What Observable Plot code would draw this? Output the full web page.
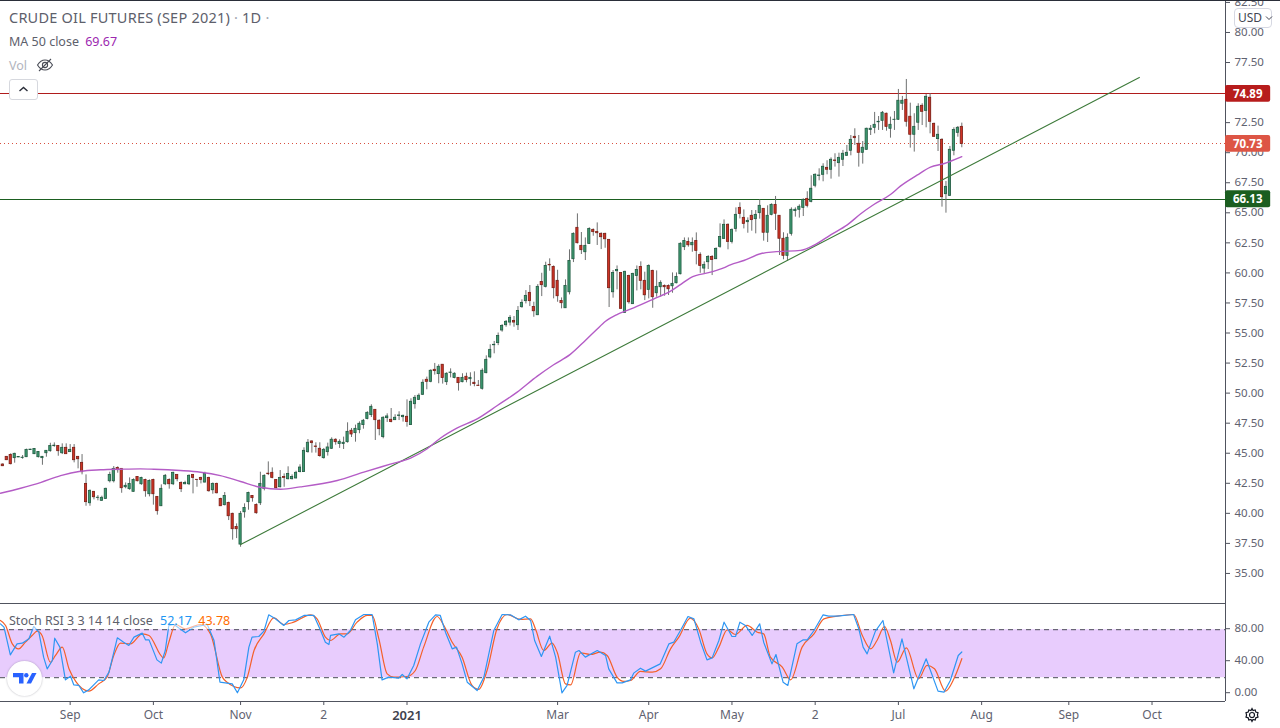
<!DOCTYPE html>
<html>
<head>
<meta charset="utf-8">
<script src="https://cdn.jsdelivr.net/npm/d3@7"></script>
<script src="https://cdn.jsdelivr.net/npm/@observablehq/plot@0.6"></script>
<style>
html,body{margin:0;padding:0;background:#fff;overflow:hidden}
#wrap{position:relative;width:1280px;height:728px;font-family:"Noto Sans",sans-serif}
#wrap svg.plot{display:block}
.abs{position:absolute;white-space:nowrap}
</style>
</head>
<body>
<div id="wrap">
  <div id="main"></div>
  <div id="lower"></div>
  <div class="abs" style="left:0;top:0;width:1280px;height:1px;background:#2a2e39"></div>
  <div class="abs" style="left:9px;top:8px;font-size:14.5px;letter-spacing:.22px;line-height:19px;color:#5d606b">CRUDE OIL FUTURES (SEP 2021) <span style="color:#a3a6af">·</span> 1D <span style="color:#a3a6af">·</span></div>
  <div class="abs" style="left:9px;top:33px;font-size:12.5px;line-height:17px;color:#5d606b">MA 50 close <span style="color:#9c27b0;margin-left:3px">69.67</span></div>
  <div class="abs" style="left:9px;top:57px;font-size:12.5px;line-height:17px;color:#b2b5be">Vol</div>
  <svg class="abs" style="left:36px;top:57px" width="18" height="16" viewBox="0 0 18 16" fill="none" stroke="#4a4d57" stroke-width="1.1"><path d="M1.5 8C4 4 6.5 3 9 3s5 1 7.5 5C14 12 11.500 13 9 13S4 12 1.500 8Z"/><circle cx="9" cy="8" r="2.600"/><path d="M3 14L15 2"/></svg>
  <div class="abs" style="left:9px;top:79px;width:27px;height:19px;border:1px solid #d6d8de;border-radius:3px;background:#fff"><svg width="27" height="19" viewBox="0 0 27 19" fill="none" stroke="#2a2e39" stroke-width="1.400" style="display:block"><path d="M9.500 11L13.500 7.500L17.500 11"/></svg></div>
  <div class="abs" style="left:1234px;top:8px;width:36px;height:18px;border:1px solid #d6d8e2;border-radius:4px;background:#fff;font-size:12px;line-height:18px;color:#434651;box-sizing:content-box;padding-left:0;text-indent:3px">USD<svg width="8" height="6" viewBox="0 0 8 6" fill="none" stroke="#434651" style="margin-left:3px;vertical-align:1px"><path d="M1 1.500L4 4.500L7 1.500"/></svg></div>
  <div class="abs" style="left:9px;top:612px;font-size:12.500px;line-height:17px;color:#5d606b;background:rgba(255,255,255,.55)">Stoch RSI 3 3 14 14 close <span style="color:#2196f3;margin-left:4px">52.17</span> <span style="color:#ff6d00;margin-left:3px">43.78</span></div>
  <div class="abs" style="left:7px;top:661px;width:35px;height:35px;border-radius:50%;background:#fff;box-shadow:0 0 2px rgba(40,40,60,.35)"><svg width="35" height="35" viewBox="0 0 35 35" fill="#2962ff" style="display:block"><path d="M6 12h10.500v10.500h-4.500v-6.300H6z"/><circle cx="19.300" cy="14.200" r="2.200"/><path d="M25 12h4.500l-5.500 10.500h-4.500z"/></svg></div>
  <svg class="abs" style="left:1244px;top:707px" width="16" height="16" viewBox="0 0 16 16" fill="none" stroke="#131722" stroke-width="1.200"><circle cx="8" cy="8" r="2.500"/><path d="M8 1.500l1 2 2.200-.6.600 2.200 2.200.6-.6 2.300.6 2.200-2.200.6-.6 2.200-2.200-.6-1 2-1-2-2.200.6-.6-2.200-2.200-.6.600-2.200-.600-2.300 2.200-.6.600-2.200 2.200.6z"/></svg>
</div>
<script>
const opens = [
44.06,44.70,44.86,44.59,44.65,44.60,44.67,45.26,44.92,44.67,
44.59,45.00,45.17,45.59,45.61,45.00,45.45,45.09,45.45,44.70,
44.20,42.45,40.84,41.79,41.27,41.04,41.20,42.67,42.67,43.78,
43.70,42.17,42.01,41.79,43.03,42.42,42.78,41.59,42.78,41.37,
40.59,42.42,42.78,42.42,43.20,42.53,42.42,42.42,43.20,42.79,
42.95,42.56,42.95,41.92,42.45,41.20,40.68,40.87,39.96,38.87,
37.40,40.09,40.93,41.45,40.70,40.84,42.04,43.30,43.37,42.78,
42.17,43.03,42.84,42.84,42.90,43.43,43.43,45.09,45.98,45.56,
45.37,44.59,45.09,45.37,46.12,45.76,45.76,45.92,46.87,46.67,
46.92,47.34,47.84,48.17,48.61,47.70,46.34,47.92,47.78,47.75,
48.10,48.00,48.03,47.34,49.08,49.44,49.86,51.11,50.94,51.94,
51.58,52.36,50.91,51.68,51.25,51.27,50.91,51.36,51.16,50.86,
50.62,50.36,51.66,52.97,53.98,54.16,55.21,55.65,55.87,56.01,
55.65,57.15,57.65,58.34,57.17,56.48,59.25,58.84,60.67,60.50,
59.34,57.67,57.06,58.39,61.14,63.75,62.25,61.72,62.41,63.58,
63.41,63.25,63.25,62.75,58.39,60.14,60.00,56.67,59.75,57.40,
59.75,60.50,59.34,58.59,60.17,58.31,58.81,58.92,58.92,58.89,
59.14,59.89,62.14,62.58,62.30,62.66,61.50,60.36,60.89,61.33,
61.14,62.17,62.83,64.00,62.58,63.66,65.41,64.58,64.22,64.75,
64.47,64.97,65.33,63.34,64.83,65.66,64.75,62.84,61.42,63.25,
65.14,65.25,65.41,66.16,65.91,67.25,68.06,68.16,68.74,68.58,
69.35,69.13,69.41,69.74,70.16,71.32,70.74,69.99,70.24,71.88,
72.07,72.53,72.65,73.24,71.99,72.72,72.74,74.07,74.40,72.99,
71.49,72.49,73.90,73.48,74.57,72.40,71.13,71.07,66.55,66.41,
70.16,71.65,72.15];
const closes = [
43.92,44.42,44.09,44.95,44.69,44.63,45.28,45.30,45.36,45.11,
44.70,45.20,45.61,45.63,45.17,45.45,44.92,45.28,44.42,44.50,
43.42,40.93,41.87,41.34,41.30,41.29,42.04,43.20,43.70,43.59,
42.09,42.29,42.45,42.78,42.67,42.95,41.84,42.70,41.59,40.18,
42.04,43.12,42.42,43.37,42.84,42.01,42.53,43.12,42.95,42.77,
42.78,43.28,41.84,42.45,41.67,40.59,41.45,39.76,38.68,38.68,
39.96,40.45,41.70,41.26,40.01,42.45,43.12,43.26,42.95,42.09,
42.95,42.95,43.28,43.03,43.37,43.81,45.20,45.87,45.84,45.52,
44.76,45.28,45.48,46.12,45.92,45.95,45.87,46.78,46.56,47.03,
47.45,47.70,48.36,48.86,47.75,47.00,47.95,48.06,47.59,47.95,
48.14,48.11,47.59,49.28,49.61,49.78,50.86,50.94,51.86,51.83,
52.19,51.25,51.61,51.71,51.61,50.83,51.27,51.08,51.27,50.75,
50.59,51.86,52.77,53.60,54.02,54.75,55.59,55.93,56.26,55.87,
56.84,57.51,58.09,57.65,56.81,58.84,58.98,60.58,60.63,58.73,
58.06,57.48,58.92,61.00,63.25,62.47,61.89,62.25,63.66,63.39,
63.30,62.97,62.80,58.73,60.00,60.25,57.01,60.09,57.56,59.92,
60.25,59.34,58.14,60.58,57.98,58.84,59.17,58.81,58.64,59.09,
59.67,62.42,62.66,62.30,62.50,61.83,60.58,60.67,61.33,61.08,
62.00,62.99,64.00,62.58,63.58,64.83,64.91,64.08,64.33,64.39,
64.83,65.58,63.34,64.75,65.66,64.92,62.84,61.42,62.92,65.25,
65.25,65.50,66.08,65.58,67.00,68.16,68.10,68.83,68.58,69.41,
69.31,69.57,69.91,69.99,71.07,71.21,69.99,70.41,71.99,71.99,
72.32,72.57,73.32,72.15,72.32,72.74,74.32,74.32,72.57,71.49,
72.15,73.82,73.40,74.65,72.57,71.32,71.49,66.30,67.16,70.24,
71.88,72.07,70.73];
const highs = [
44.12,44.73,44.95,45.00,44.71,44.81,45.34,45.32,45.39,45.14,
44.73,45.22,45.83,45.86,45.64,45.78,45.78,45.72,45.72,44.73,
44.89,43.20,41.95,41.81,41.48,41.43,42.09,43.42,43.89,43.87,
43.70,42.53,42.95,42.87,43.06,43.00,42.84,42.78,42.84,41.37,
42.37,43.23,42.87,43.42,43.20,42.62,42.67,43.20,43.20,42.81,
43.00,43.42,43.00,42.53,42.51,41.26,41.73,40.93,40.01,39.12,
40.15,40.79,41.76,41.48,40.79,43.42,43.20,44.28,43.78,42.78,
43.56,43.28,43.87,43.20,43.50,44.04,45.45,46.14,46.03,45.87,
45.87,45.40,45.84,46.28,46.20,46.12,46.34,47.53,47.06,47.34,
47.61,47.81,48.45,49.03,48.61,47.78,48.03,48.28,48.72,48.20,
48.45,48.17,49.44,49.53,49.80,49.94,51.11,51.33,51.94,52.47,
52.36,52.36,51.69,52.02,51.69,51.27,51.61,51.66,51.69,51.77,
51.05,52.02,53.10,54.02,54.30,55.00,55.70,56.04,56.45,56.37,
57.20,57.76,58.53,58.95,57.56,59.03,59.97,60.89,61.17,60.58,
60.22,57.92,59.42,61.92,63.33,64.91,63.36,62.91,63.75,63.66,
64.16,63.33,63.30,62.78,60.20,60.58,60.00,60.14,59.81,59.97,
60.58,60.92,60.06,60.67,60.22,60.17,59.34,59.00,59.00,60.00,
60.00,62.50,62.91,62.91,62.91,63.33,61.67,60.92,61.44,61.44,
62.08,64.08,64.41,64.08,63.66,65.41,65.83,65.24,64.58,65.19,
65.19,66.08,65.33,65.58,65.75,66.36,64.75,63.34,63.25,65.41,
65.41,65.66,66.16,66.75,68.08,68.24,68.66,69.08,69.33,69.57,
69.91,69.96,70.19,70.60,71.43,71.99,71.43,70.93,72.04,72.26,
73.35,73.01,73.43,73.29,72.96,73.43,75.26,74.68,76.09,74.12,
73.24,74.07,74.07,74.84,74.90,72.46,72.21,71.16,67.60,70.52,
72.07,72.18,72.46];
const lows = [
43.89,44.39,44.03,44.17,44.64,44.50,44.64,45.24,44.89,44.61,
44.00,44.67,45.09,45.50,44.75,44.89,44.92,45.06,44.20,43.70,
43.20,40.59,40.59,41.12,41.04,41.01,41.18,42.53,42.53,43.34,
41.67,42.04,41.92,41.76,42.62,42.34,41.34,41.37,40.68,39.85,
40.59,42.31,42.01,42.31,42.62,41.73,42.37,42.31,41.62,42.17,
42.45,42.53,41.76,41.59,41.62,40.57,40.62,39.40,37.77,37.90,
37.18,39.60,40.26,40.93,39.93,40.65,41.87,43.14,42.87,42.04,
42.12,42.17,42.78,42.78,42.87,43.37,43.43,45.01,45.01,45.01,
44.67,44.51,44.76,45.31,45.67,45.40,45.31,45.84,46.31,45.92,
46.62,47.00,47.78,47.97,46.06,46.45,46.20,47.56,47.53,47.72,
47.72,47.59,47.17,47.31,48.67,49.39,49.80,50.28,50.86,51.50,
50.78,50.75,50.64,51.27,51.19,50.17,50.86,50.86,50.58,50.53,
50.58,50.25,51.61,52.86,53.27,53.95,55.07,55.48,55.59,55.48,
55.21,57.06,57.42,57.20,56.31,56.45,58.03,58.75,60.14,57.84,
57.56,57.01,57.06,58.17,60.86,62.41,61.53,61.03,62.36,63.05,
62.28,61.94,62.05,57.12,57.90,58.59,57.01,56.65,57.40,57.37,
58.50,58.59,57.70,57.84,57.06,57.98,57.98,58.06,58.12,58.31,
59.09,59.84,61.86,62.14,61.72,60.67,59.97,59.92,60.28,59.78,
61.11,62.05,62.78,61.92,62.41,63.39,64.49,63.66,63.30,63.47,
63.25,64.47,62.64,62.53,64.75,63.53,61.45,61.09,60.98,63.06,
64.64,64.56,64.69,65.41,65.83,67.08,67.66,67.58,68.16,67.80,
68.80,67.97,68.85,69.69,69.74,70.60,68.80,69.05,70.19,71.43,
71.57,71.85,71.85,71.79,71.21,71.85,72.68,73.51,72.13,70.38,
70.05,71.85,72.26,72.07,71.57,71.29,70.10,65.47,64.97,66.36,
69.74,71.29,70.41];

const maBars = [-0.6,4.5,9.5,14.6,19.6,24.7,29.7,34.7,38.1,44.8,49.9,54.9,60,65,70.1,75.1,84.4,91.1,97.8,102.9,107.1,110.4,114.7,119.7,124.8,129.8,134.8,139,143.2,147,149.6,152.1,155,159.2,164.3,168.5,171,173.5,178.6,181.9,183.6,187,191.2,194.6,201.3,204.6,208.9,213.1,216.5,219.8,224,226.5,230.7,234.1,237.4,242];
const maValues = [41.67,42.09,42.56,43.14,43.5,43.62,43.67,43.7,43.67,43.56,43.42,43.14,42.65,42.17,42.01,42.2,42.73,43.43,44.09,44.59,45.37,46.25,47.11,47.86,48.97,50.08,51.39,52.36,53.22,54.38,55.2,55.98,56.54,57.09,57.84,58.48,59.03,59.59,60.06,60.42,60.67,61.03,61.59,61.75,61.87,62.28,63.17,64,64.92,65.69,66.52,67.22,68.13,68.8,69.08,69.67];

const trendBars = [60,286.8];
const trendPrices = [37.4,76.26];

const levels = [74.89,66.13];
const lastPrice = 70.73;
const priceTicks = [35,37.5,40,42.5,45,47.5,50,52.5,55,57.5,60,62.5,65,67.5,70,72.5,77.5,80,82.5];
const priceTags = [
  {p:74.89, bg:"#b71c1c"},
  {p:70.73, bg:"#dd5545"},
  {p:66.13, bg:"#1b5e20"}
];

const kBars = [-0.6,0.3,1.9,3.6,4.9,6.6,7.8,9.1,10.3,11.2,12.5,13.1,14.4,15.8,17.1,17.9,19.2,20.4,21.7,24.2,25.5,26.8,28.9,30.5,31.8,33.1,35.2,36,36.9,38.9,40,41,41.9,43.2,46.1,48.2,51.6,53.3,54.8,57.9,59.2,60.8,62.1,62.9,64.6,65.9,67.1,68.8,70.9,72.2,73.9,76,78.5,80.2,81.4,82.3,
82.7,84.8,86.1,87.7,89,91.1,93.2,94.5,95.7,97.4,99.9,100.8,102,103.7,105.4,107.5,109.2,110.4,111.7,113.4,114.5,115.9,117.2,119.7,121.4,123.9,126,128.1,130.2,131.9,133.2,134.2,135.9,138,139.5,141.1,142.4,144.5,145.4,147,150,152.1,152.9,155,156.3,158.4,159.2,160.9,162.2,165.9,
168.1,169.3,171,172.9,174.4,176.1,177.7,179,180.7,182,184,184.9,186,187.4,189.1,191,192,194.1,195.1,196.9,198.1,200.4,202,203,204.7,207,208.4,210.5,214.7,216,217.1,218.1,220.2,222.1,224.8,226.9,229.9,233,236,237.5,239.1,241.1,242];
const kValues = [87.3,83.2,48.6,62.3,63.2,68.6,84,76.9,45.7,31.1,41.5,69.4,58.2,17.3,21.9,11.1,10.3,1.1,4.8,17.3,16.5,26.9,69.8,64.4,60.3,70.7,75.7,67.3,67.3,42.3,38.2,54,85.3,86.5,76.1,83.2,86.5,66.5,14.4,12.3,1.1,17.3,58.2,70.7,71.5,78.2,98.6,93.6,85.3,91.5,92.3,97.8,97.8,79,64.4,61.5,
72.8,74.8,70.7,79,92.3,99,99,62.3,17.3,20.7,19.4,24,18.6,35.3,62.3,89.4,98.6,97.8,76.9,56.1,58.2,37.3,14.4,4,20.7,79,99,98.6,92.3,96.9,91.5,66.5,46.5,71.9,45.7,1.1,10.3,51.9,54,45.7,54,47.8,31.1,13.6,13.6,17.3,25.7,31.9,28.2,37.3,
62.3,64.4,79,96.5,93.6,64.4,42.3,44.8,66.5,89.4,71.5,71.5,89.4,85.3,72.8,87.3,64.4,37.3,49,14.4,10.3,62.3,67.3,67.3,79,98.6,96.9,96.9,99,81.1,58.2,49.8,78.2,91.5,26.1,68.6,6.1,43.6,3.2,1.9,16.5,47.8,52.17];

const dBars = [-0.6,0.7,2.4,4,5.7,7.4,8.7,9.9,12,13.3,15,16.7,18.4,21.7,24.2,26.3,28,29.7,32.2,35.2,36.9,40.6,41.9,43.6,46.1,49.9,52.4,55.4,56.6,60,61.7,63.4,65.9,68.4,70.9,73.4,77.6,79.3,81.4,82.7,
85.2,86.9,89.4,92,93.2,94.9,97,98.7,102,104.1,106.2,109.6,111.3,113.4,115.9,118.4,120.1,122.2,124.7,127.3,130.6,133.2,134.4,136.5,138.6,139.9,142,143.3,145.8,148.3,150.8,152.5,155,156.7,158.4,160.9,163.9,166,
168.5,170.6,173.5,175.6,177.7,179,180.7,182.8,184.9,187.8,190.4,192,193.7,196.7,198.8,201.7,204.7,207.2,210.5,214.7,216.9,219,220.6,222.5,224,225.7,228,231.1,233.2,235.1,237.9,240,242];
const dValues = [91.5,85.3,62.3,56.1,64.4,72.8,78.2,72.8,39.4,47.8,58.2,31.1,15.3,3.2,12.3,20.7,47.8,63.2,62.3,74.8,72.8,44.8,64.4,86.5,81.1,86.5,74.8,20.7,14.4,7.3,20.7,54,74.8,94.8,86.5,89.4,98.6,93.6,70.7,66.5,
74.8,74.8,89.4,97.8,97.8,68.6,24.8,20.7,21.5,29,58.2,96.5,85.3,64.4,45.7,10.3,5.3,29,81.1,99,92.8,93.6,81.1,54,63.2,51.9,12.3,11.1,51.1,49,51.9,47.8,20.7,15.3,16.5,27.8,26.9,31.1,
56.1,70.7,94.4,81.1,49.8,44.8,58.2,79.8,74,85.3,76.9,74.8,45.7,33.2,17.3,58.2,74.8,93.6,96.9,99,72.8,56.1,66.5,84,66.5,39.4,57.3,18.6,35.3,31.1,3.2,18.6,43.78];

const stochTicks = [0,40,80];
const timeTickBars = [17,38,60,81,102,140,163,184,205,226,247,269,290];
const timeTickLabels = ["Sep","Oct","Nov","2","2021","Mar","Apr","May","2","Jul","Aug","Sep","Oct"];

const xDomain = [-0.58,308.54];
const font = '"Noto Sans",sans-serif';
const axisColor = "#50535e";
const labelColor = "#5f6270";

const candles = opens.map((o,i)=>({i,o,c:closes[i],h:highs[i],l:lows[i],up:closes[i]>=o}));
const ma = maBars.map((x,i)=>({x,v:maValues[i]}));
const trend = trendBars.map((x,i)=>({x,v:trendPrices[i]}));
const k = kBars.map((x,i)=>({x,v:kValues[i]}));
const d = dBars.map((x,i)=>({x,v:dValues[i]}));
const halfBody = 0.28;

const main = Plot.plot({
  width:1280,height:603,marginLeft:0,marginRight:55,marginTop:0,marginBottom:0,
  style:{fontFamily:font,fontSize:"12px",background:"transparent",overflow:"visible"},
  x:{domain:xDomain,axis:null},
  y:{domain:[32.5,82.66],axis:null},
  marks:[
    Plot.axisY({anchor:"right",ticks:priceTicks,tickFormat:d3.format(".2f"),tickSize:4,tickPadding:5,stroke:axisColor,fill:labelColor,label:null,fontSize:11.5}),
    Plot.ruleX([xDomain[1]],{stroke:axisColor,strokeWidth:1}),
    Plot.ruleY([levels[0]],{x1:xDomain[0],x2:xDomain[1],stroke:"#b01c1c",strokeWidth:1,shapeRendering:"crispEdges"}),
    Plot.ruleY([levels[1]],{x1:xDomain[0],x2:xDomain[1],stroke:"#1b5e20",strokeWidth:1,shapeRendering:"crispEdges"}),
    Plot.ruleY([lastPrice],{x1:xDomain[0],x2:xDomain[1],stroke:"#d85040",strokeWidth:1,strokeDasharray:"1,3",shapeRendering:"crispEdges"}),
    Plot.ruleX(candles,{x:"i",y1:"l",y2:"h",stroke:"#6e7070",strokeWidth:1}),
    Plot.rect(candles,{x1:r=>r.i-halfBody,x2:r=>r.i+halfBody,y1:"o",y2:"c",fill:r=>r.up?"#3d9970":"#cf3325",stroke:r=>r.up?"#225a42":"#7a1f16",strokeWidth:0.8}),
    Plot.line(trend,{x:"x",y:"v",stroke:"#3d7a3a",strokeWidth:1.1}),
    Plot.line(ma,{x:"x",y:"v",stroke:"#b45cc6",strokeWidth:1.4,curve:"monotone-x",clip:true}),
    Plot.rect(priceTags,{x1:xDomain[1],x2:xDomain[1]+11.4,y1:r=>r.p-0.7,y2:r=>r.p+0.7,fill:r=>r.bg,rx:2}),
    Plot.text(priceTags,{x:xDomain[1]+5.6,y:"p",text:r=>r.p.toFixed(2),fill:"#fff",fontWeight:700,fontSize:11.5})
  ]
});
document.getElementById("main").append(main);

const lower = Plot.plot({
  width:1280,height:125,marginLeft:0,marginRight:55,marginTop:0,marginBottom:27,
  style:{fontFamily:font,fontSize:"12px",background:"transparent",overflow:"visible"},
  x:{domain:xDomain,axis:null},
  y:{domain:[-9.75,112.75],axis:null},
  marks:[
    Plot.rectY([{a:20,b:80}],{x1:xDomain[0],x2:xDomain[1],y1:"a",y2:"b",fill:"#e8ccfd"}),
    Plot.ruleY([20,80],{x1:xDomain[0],x2:xDomain[1],stroke:"#4a4d57",strokeWidth:1,strokeDasharray:"5,4"}),
    Plot.ruleY([-9.75,112.75],{x1:xDomain[0],x2:xDomain[1],stroke:axisColor,strokeWidth:1}),
    Plot.ruleX([xDomain[1]],{y1:-9.75,y2:112.75,stroke:axisColor,strokeWidth:1}),
    Plot.axisY({anchor:"right",ticks:stochTicks,tickFormat:d3.format(".2f"),tickSize:4,tickPadding:5,stroke:axisColor,fill:labelColor,label:null,fontSize:11.5,dy:-1}),
    Plot.axisX({anchor:"bottom",ticks:timeTickBars.filter((_,i)=>timeTickLabels[i]!=="2021"),tickFormat:v=>timeTickLabels[timeTickBars.indexOf(v)],tickSize:4,tickPadding:5,stroke:axisColor,fill:labelColor,label:null,fontSize:12}),
    Plot.axisX({anchor:"bottom",ticks:timeTickBars.filter((_,i)=>timeTickLabels[i]==="2021"),tickFormat:v=>timeTickLabels[timeTickBars.indexOf(v)],tickSize:4,tickPadding:5,stroke:axisColor,fill:"#3f424d",fontWeight:600,label:null,fontSize:13}),
    Plot.line(d,{x:"x",y:"v",stroke:"#f4602a",strokeWidth:1.2,curve:"monotone-x"}),
    Plot.line(k,{x:"x",y:"v",stroke:"#2e96f3",strokeWidth:1.2})
  ]
});
document.getElementById("lower").append(lower);
</script>
</body>
</html>
